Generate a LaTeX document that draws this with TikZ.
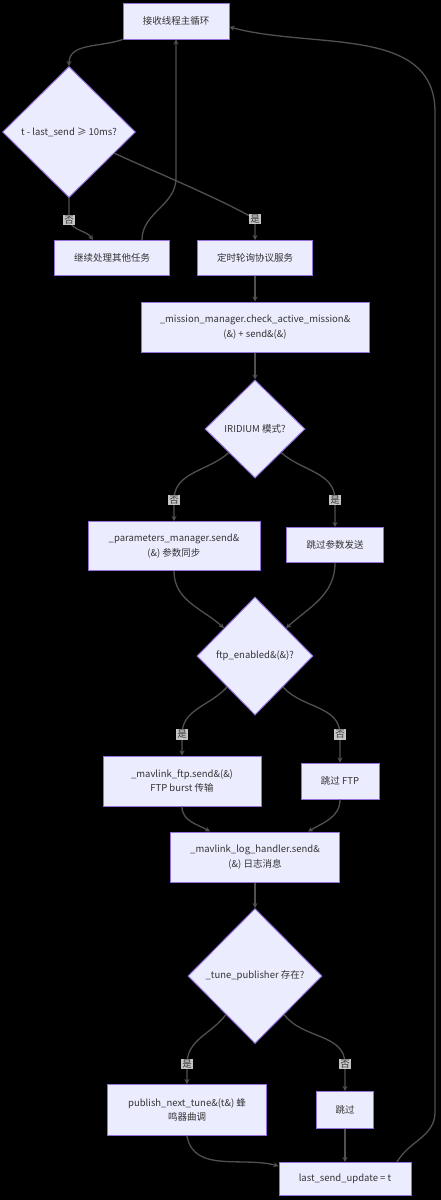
\documentclass[tikz,border=0pt]{standalone}
\usepackage{fontspec}
\setmainfont{Noto Sans CJK SC}
\usetikzlibrary{shapes.geometric,arrows.meta,positioning}
\definecolor{nodefill}{HTML}{ECECFF}
\definecolor{nodeborder}{HTML}{9370DB}
\definecolor{linegray}{HTML}{505050}
\definecolor{labelgray}{HTML}{E8E8E8}
\definecolor{textgray}{HTML}{333333}
\begin{document}
\begin{tikzpicture}[x=1pt,y=1pt,
		stepbox/.style={rectangle,draw=nodeborder,fill=nodefill,line width=1pt,text=textgray,align=center,inner sep=0pt,font=\fontsize{9.5}{14.3}\selectfont},
		choice/.style={diamond,aspect=1,draw=nodeborder,fill=nodefill,line width=1pt,text=textgray,inner sep=0pt,font=\fontsize{9.5}{14.3}\selectfont},
		flow/.style={draw=linegray,line width=1.3pt,-{Stealth[length=5pt,width=5pt]}},
		answer/.style={fill=labelgray,fill opacity=0.85,text opacity=1,text=textgray,inner sep=1pt,font=\fontsize{9.5}{11}\selectfont}
		]
		\useasboundingbox (0,0) rectangle (441,-1200);
		\fill[black] (0,0) rectangle (441,-1200);
		\node[stepbox, minimum width=106pt, minimum height=36pt] (S0) at (176,-21) {接收线程主循环};
		\node[choice, minimum width=133pt, minimum height=131pt] (D1) at (69,-132) {t - last\_send ≥ 10ms?};
		\node[stepbox, minimum width=115pt, minimum height=35pt] (S1) at (112,-258) {继续处理其他任务};
		\node[stepbox, minimum width=115pt, minimum height=35pt] (S2) at (255,-258) {定时轮询协议服务};
		\node[stepbox, minimum width=228pt, minimum height=50pt] (S3) at (255,-327) {\_mission\_manager.check\_active\_mission\&\\(\&) + send\&(\&)};
		\node[choice, minimum width=100pt, minimum height=98pt] (D2) at (255,-429) {IRIDIUM 模式?};
		\node[stepbox, minimum width=172pt, minimum height=49pt] (S4) at (174,-546) {\_parameters\_manager.send\&\\(\&) 参数同步};
		\node[stepbox, minimum width=97pt, minimum height=35pt] (S5) at (335,-545) {跳过参数发送};
		\node[choice, minimum width=116pt, minimum height=118pt] (D3) at (255,-656) {ftp\_enabled\&(\&)?};
		\node[stepbox, minimum width=158pt, minimum height=50pt] (S6) at (182,-781) {\_mavlink\_ftp.send\&(\&)\\FTP burst 传输};
		\node[stepbox, minimum width=78pt, minimum height=36pt] (S7) at (340,-781) {跳过 FTP};
		\node[stepbox, minimum width=169pt, minimum height=50pt] (S8) at (255,-857) {\_mavlink\_log\_handler.send\&\\(\&) 日志消息};
		\node[choice, minimum width=134pt, minimum height=135pt] (D4) at (255,-976) {\_tune\_publisher 存在?};
		\node[stepbox, minimum width=159pt, minimum height=51pt] (S9) at (187,-1110) {publish\_next\_tune\&(t\&) 蜂\\鸣器曲调};
		\node[stepbox, minimum width=57pt, minimum height=37pt] (S10) at (345,-1110) {跳过};
		\node[stepbox, minimum width=132pt, minimum height=33pt] (S11) at (345,-1179) {last\_send\_update = t};
		\coordinate (R0) at (435,-1112);
		\coordinate (R1) at (435,-112);
		\draw[flow] (S0.south west) to[out=200,in=90] (D1.north);
		\draw[flow] (D1.south) -- ++(0,-22) node[answer]{否} to[out=-70,in=125] ([xshift=-19pt]S1.north);
		\draw[flow] ([xshift=30pt]S1.north) to[out=90,in=-90] ++(34,62) -- (S0.south);
		\draw[flow] (D1.-25) to[out=-25,in=150,looseness=0.7] ([yshift=21pt]S2.north) node[answer]{是} -- (S2.north);
		\draw[flow] (S2) -- (S3);
		\draw[flow] (S3) -- (D2);
		\draw[flow] (D2.-138) to[out=-138,in=90] ([yshift=21pt]S4.north) node[answer]{否} -- (S4.north);
		\draw[flow] (D2.-42) to[out=-42,in=90] ([yshift=27pt]S5.north) node[answer]{是} -- (S5.north);
		\draw[flow] (S4.south) to[out=-90,in=138] (D3.138);
		\draw[flow] (S5.south) to[out=-90,in=42] (D3.42);
		\draw[flow] (D3.-132) to[out=-132,in=90] ([yshift=21pt]S6.north) node[answer]{是} -- (S6.north);
		\draw[flow] (D3.-48) to[out=-48,in=90] ([yshift=28pt]S7.north) node[answer]{否} -- (S7.north);
		\draw[flow] (S6.south) to[out=-90,in=150] ([xshift=-45pt]S8.north);
		\draw[flow] (S7.south) to[out=-90,in=30] ([xshift=53pt]S8.north);
		\draw[flow] (S8) -- (D4);
		\draw[flow] (D4.-127) to[out=-127,in=90] ([yshift=20pt]S9.north) node[answer]{是} -- (S9.north);
		\draw[flow] (D4.-53) to[out=-53,in=90] ([yshift=27pt]S10.north) node[answer]{否} -- (S10.north);
		\draw[flow] (S9.south) to[out=-80,in=165] ([yshift=-4pt]S11.north west);
		\draw[flow] (S10) -- (S11);
		\draw[flow] ([xshift=52pt]S11.north) to[out=60,in=-90] (R0) -- (R1) to[out=90,in=-15] ([yshift=-6pt]S0.east);
	\end{tikzpicture}
\end{document}
